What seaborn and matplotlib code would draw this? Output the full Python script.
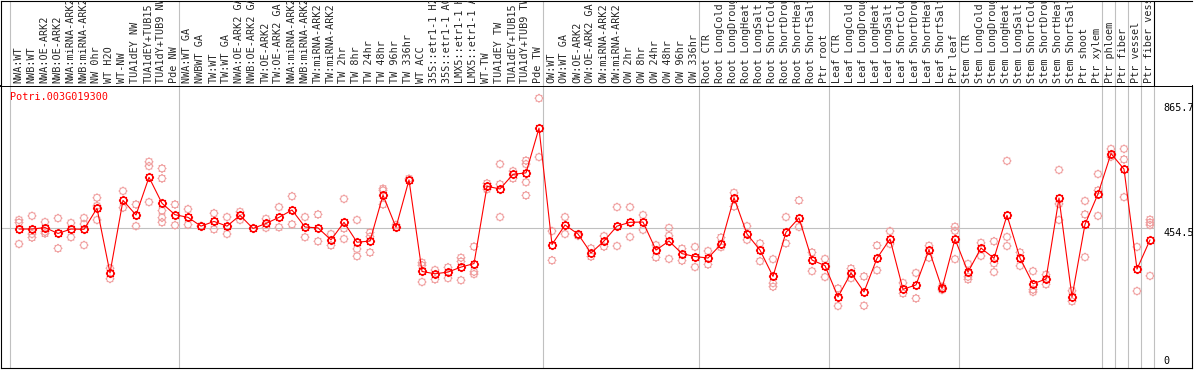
import numpy as np
import pandas as pd
import seaborn as sns
import matplotlib.pyplot as plt
from matplotlib.path import Path


gene = "Potri.003G019300"

samples = [
    "NWA:WT", "NWB:WT", "NWA:OE-ARK2", "NWB:OE-ARK2", "NWA:miRNA-ARK2", "NWB:miRNA-ARK2",
    "NW 0hr", "WT H2O", "WT-NW", "TUA1dEY NW", "TUA1dEY+TUB15", "TUA1dY+TUB9 NW", "Pde NW",
    "NWA:WT GA", "NWBWT GA", "TW:WT", "TW:WT GA", "NWA:OE-ARK2 GA", "NWB:OE-ARK2 GA",
    "TW:OE-ARK2", "TW:OE-ARK2 GA", "NWA:miRNA-ARK2", "NWB:miRNA-ARK2", "TW:miRNA-ARK2",
    "TW:miRNA-ARK2", "TW 2hr", "TW 8hr", "TW 24hr", "TW 48hr", "TW 96hr", "TW 336hr",
    "WT ACC", "35S::etr1-1 H2O", "35S::etr1-1 ACC", "LMX5::etr1-1 H2O", "LMX5::etr1-1 ACC",
    "WT-TW", "TUA1dEY TW", "TUA1dEY+TUB15", "TUA1dY+TUB9 TW", "Pde TW",
    "OW:WT", "OW:WT GA", "OW:OE-ARK2", "OW:OE-ARK2 GA", "OW:miRNA-ARK2", "OW:miRNA-ARK2",
    "OW 2hr", "OW 8hr", "OW 24hr", "OW 48hr", "OW 96hr", "OW 336hr",
    "Root CTR", "Root LongCold", "Root LongDrought", "Root LongHeat", "Root LongSalt",
    "Root ShortCold", "Root ShortDrought", "Root ShortHeat", "Root ShortSalt", "Ptr root",
    "Leaf CTR", "Leaf LongCold", "Leaf LongDrought", "Leaf LongHeat", "Leaf LongSalt",
    "Leaf ShortCold", "Leaf ShortDrought", "Leaf ShortHeat", "Leaf ShortSalt", "Ptr leaf",
    "Stem CTR", "Stem LongCold", "Stem LongDrought", "Stem LongHeat", "Stem LongSalt",
    "Stem ShortCold", "Stem ShortDrought", "Stem ShortHeat", "Stem ShortSalt", "Ptr shoot",
    "Ptr xylem", "Ptr phloem", "Ptr fiber", "Ptr vessel", "Ptr fiber vessel",
]

means = [
    451, 451, 456, 436, 451, 450, 522, 301, 549, 499, 628, 539, 500,
    491, 461, 477, 461, 498, 453, 470, 491, 516, 458, 455, 414, 474, 406, 410,
    567, 457, 619, 306, 298, 304, 321, 333, 597, 588, 638, 643, 796,
    398, 465, 434, 369, 410, 461, 474, 475, 379, 410, 367, 357,
    352, 399, 558, 434, 379, 289, 440, 489, 345, 326,
    219, 301, 236, 351, 417, 245, 260, 380, 248, 417,
    304, 386, 351, 498, 352, 264, 280, 557, 219, 467, 571,
    709, 656, 314, 414,
]

reps = [
    [482, 473, 400], [496, 434, 422], [475, 442, 436], [488, 385], [472, 423],
    [489, 468, 396], [558, 530, 482], [317, 281], [581, 524], [535, 461],
    [681, 666, 543], [658, 624, 514, 490, 474], [535, 464],
    [519, 466], [461], [505, 450], [492, 434], [510, 482], [453], [486, 455],
    [526, 457], [563, 467], [492, 423], [501, 409], [434, 395], [554, 417, 453],
    [482, 383, 358], [439, 425, 371], [589, 583, 535], [465], [623],
    [336, 327, 270], [311, 279], [320, 283], [353, 340, 276], [391, 305, 297],
    [607, 587], [673, 604, 492], [649, 624], [685, 673, 611, 566], [898, 697],
    [444, 344], [492, 434], [428], [385, 357], [427, 391], [526, 393],
    [526, 424], [499, 448], [396, 354], [455, 428, 349], [384, 343], [390, 321],
    [376, 330], [422, 389], [575, 528], [461, 414], [402, 341], [348, 266, 254],
    [492, 402], [549, 458], [371, 307], [349, 287],
    [248, 188], [316, 283], [289, 189], [395, 310], [444, 400], [267, 231],
    [301, 214], [394, 353], [254, 243], [459, 445, 348],
    [332, 288, 279], [404, 359], [409, 334, 304], [684, 424, 393], [371, 325],
    [307, 244, 236], [295, 262], [653, 537, 482], [240, 204], [547, 501, 355],
    [639, 583, 496], [725, 698], [725, 689, 560], [390, 239], [483, 473, 465, 291],
]

group_starts = [0, 13, 41, 53, 63, 73, 84, 85, 86, 87, 88]
ref_value = 454.5
y_ticks = [865.7, 454.5, 0]

df = pd.DataFrame({"pos": range(len(means)), "value": means})
rep_df = pd.DataFrame([(i, v) for i, r in enumerate(reps) for v in r], columns=["pos", "value"])

sns.set_style("white")
plt.rcParams["font.family"] = ["DejaVu Sans Mono", "DejaVu Sans"]
plt.rcParams["font.size"] = 7.3

# little "sun" marker: ring plus 8 short spikes
ang = np.deg2rad(np.arange(0, 360, 45))
spikes = [Path([(np.cos(a), np.sin(a)), (1.35 * np.cos(a), 1.35 * np.sin(a))],
               [Path.MOVETO, Path.LINETO]) for a in ang]
sun = Path.make_compound_path(Path.unit_circle(), *spikes)

W, H = 1194, 370
fig = plt.figure(figsize=(W / 100, H / 100), dpi=100)
ax = fig.add_axes([1 / W, (H - 368) / H, 1191 / W, (368 - 86) / H])
lab = fig.add_axes([1 / W, (H - 86) / H, 1191 / W, 85.5 / H])

xlim = (-18 / 13, 1173 / 13)
for a in (ax, lab):
    a.set_xlim(*xlim)
    a.set_xticks([])
    a.set_yticks([])
    a.set_facecolor("white")
ax.set_ylim(-23.9, 939.9)
lab.set_ylim(0, 1)

grey = "#c0c0c0"
seps = [k - 9 / 13 for k in group_starts]
for s in seps:
    ax.axvline(s, color=grey, lw=0.8, zorder=1)
    if s != seps[-1]:
        lab.axvline(s, color=grey, lw=0.8, zorder=1)
lab.axvline(seps[-1], color="black", lw=0.8, zorder=1)
ax.hlines(ref_value, xlim[0], seps[-1], color=grey, lw=0.8, zorder=1)

sns.scatterplot(data=rep_df, x="pos", y="value", marker=sun, s=42, facecolors="none",
                edgecolor="#f0a0a0", linewidth=0.75, ax=ax, zorder=2, legend=False)
sns.lineplot(data=df, x="pos", y="value", sort=False, estimator=None, color="red",
             lw=0.8, marker=sun, markersize=6.6, mfc="none", mec="red", mew=1.1,
             ax=ax, zorder=3, legend=False)

ax.set_xlabel("")
ax.set_ylabel("")
ax.text(-0.72, 1 - 10.7 / 282, gene, color="red", ha="left", va="center",
        transform=ax.get_yaxis_transform().inverted() if False else
        ax.get_xaxis_transform())

for t in y_ticks:
    va = "top" if t == ref_value else "center"
    ax.text(88.0, t, f"{t:g}", ha="left", va=va, color="black")

for i, name in enumerate(samples):
    lab.text(i - 0.04, 3 / 86, name, rotation=90, ha="center", va="bottom",
             clip_on=True, transform=lab.get_xaxis_transform())

for sp in ax.spines.values():
    sp.set_color("black")
    sp.set_linewidth(0.8)
ax.spines["top"].set_linewidth(1.4)
for k, sp in lab.spines.items():
    sp.set_color("black")
    sp.set_linewidth(0.8)
lab.spines["right"].set_visible(False)
lab.spines["bottom"].set_visible(False)

fig.savefig("out.png", dpi=100)
